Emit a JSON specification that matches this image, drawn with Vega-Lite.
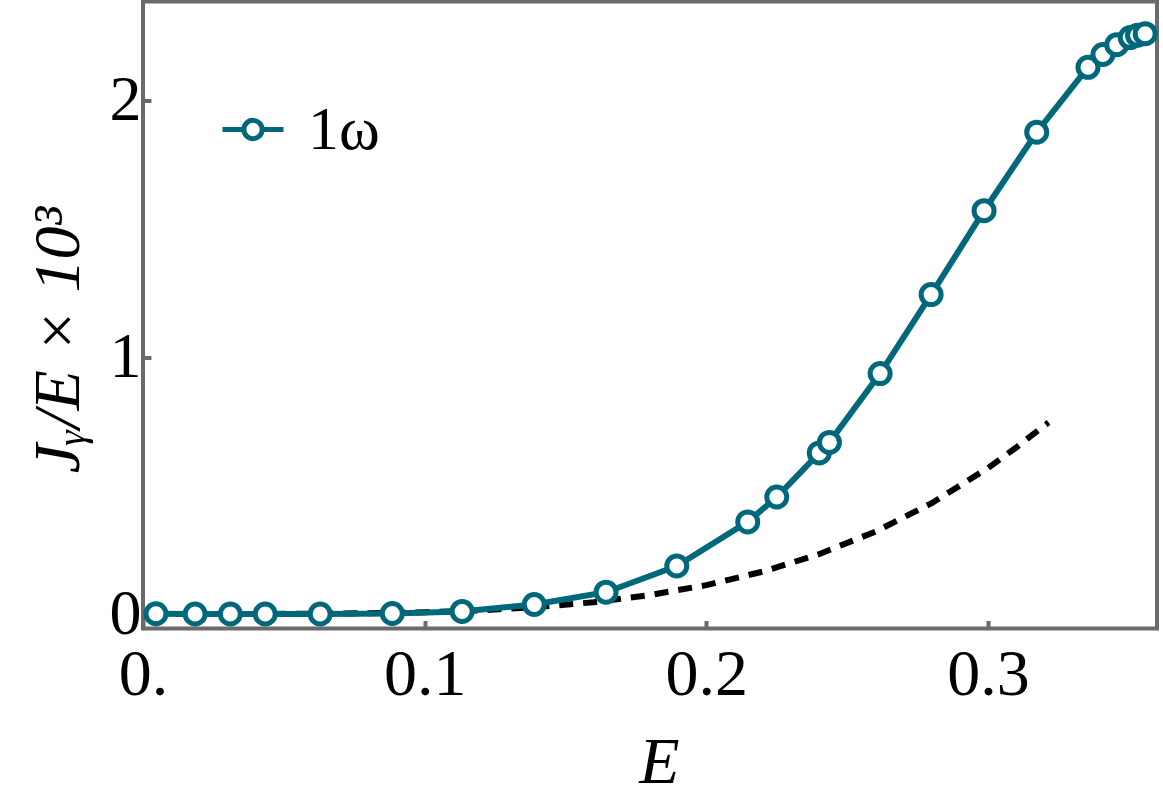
{
  "$schema": "https://vega.github.io/schema/vega-lite/v6.json",
  "width": 1014,
  "height": 627,
  "autosize": {"type": "none"},
  "padding": {"left": 143, "top": 1.5, "right": 6, "bottom": 180.5},
  "background": "white",
  "config": {
    "view": {"stroke": "#6b6b6b", "strokeWidth": 4},
    "axis": {
      "domain": false,
      "grid": false,
      "tickColor": "#6b6b6b",
      "tickWidth": 4,
      "tickSize": -8,
      "labelFont": "Liberation Serif",
      "labelFontSize": 66,
      "labelColor": "black",
      "titleFont": "Liberation Serif",
      "titleFontSize": 66,
      "titleColor": "black",
      "titleFontWeight": "normal"
    }
  },
  "datasets": {
    "main": [
      {"E": 0.0046, "J": 0.001, "s": "1ω"},
      {"E": 0.0185, "J": 0.0, "s": "1ω"},
      {"E": 0.031, "J": 0.0, "s": "1ω"},
      {"E": 0.0434, "J": 0.0, "s": "1ω"},
      {"E": 0.0629, "J": 0.0, "s": "1ω"},
      {"E": 0.0885, "J": 0.002, "s": "1ω"},
      {"E": 0.1133, "J": 0.01, "s": "1ω"},
      {"E": 0.1389, "J": 0.037, "s": "1ω"},
      {"E": 0.1644, "J": 0.085, "s": "1ω"},
      {"E": 0.1895, "J": 0.187, "s": "1ω"},
      {"E": 0.2147, "J": 0.359, "s": "1ω"},
      {"E": 0.2250, "J": 0.456, "s": "1ω"},
      {"E": 0.2401, "J": 0.628, "s": "1ω"},
      {"E": 0.2437, "J": 0.669, "s": "1ω"},
      {"E": 0.2617, "J": 0.937, "s": "1ω"},
      {"E": 0.2798, "J": 1.245, "s": "1ω"},
      {"E": 0.2986, "J": 1.572, "s": "1ω"},
      {"E": 0.3173, "J": 1.878, "s": "1ω"},
      {"E": 0.3355, "J": 2.131, "s": "1ω"},
      {"E": 0.3408, "J": 2.181, "s": "1ω"},
      {"E": 0.3457, "J": 2.219, "s": "1ω"},
      {"E": 0.3505, "J": 2.247, "s": "1ω"},
      {"E": 0.3531, "J": 2.256, "s": "1ω"},
      {"E": 0.3558, "J": 2.262, "s": "1ω"}
    ],
    "fit": [
      {"E": 0.003, "J": 0.0},
      {"E": 0.02, "J": 0.00001},
      {"E": 0.04, "J": 0.00018},
      {"E": 0.06, "J": 0.0009},
      {"E": 0.08, "J": 0.0029},
      {"E": 0.10, "J": 0.007},
      {"E": 0.12, "J": 0.0146},
      {"E": 0.14, "J": 0.027},
      {"E": 0.16, "J": 0.046},
      {"E": 0.18, "J": 0.074},
      {"E": 0.20, "J": 0.1125},
      {"E": 0.22, "J": 0.165},
      {"E": 0.24, "J": 0.233},
      {"E": 0.26, "J": 0.321},
      {"E": 0.28, "J": 0.432},
      {"E": 0.30, "J": 0.569},
      {"E": 0.31, "J": 0.649},
      {"E": 0.3215, "J": 0.747}
    ]
  },
  "layer": [
    {
      "data": {"name": "fit"},
      "mark": {"type": "line", "color": "black", "strokeWidth": 6, "strokeDash": [14, 10]},
      "encoding": {
        "x": {"field": "E", "type": "quantitative",
          "scale": {"domain": [0, 0.36], "nice": false, "zero": false},
          "axis": {
            "values": [0, 0.1, 0.2, 0.3],
            "labelExpr": "datum.value === 0 ? '0.' : format(datum.value, '.1f')",
            "labelPadding": 22,
            "labelFlush": false,
            "title": "E",
            "titleFontStyle": "italic",
            "titleX": 516,
            "titleY": 154,
            "titleAlign": "center",
            "titleBaseline": "alphabetic"
          }
        },
        "y": {"field": "J", "type": "quantitative",
          "scale": {"domain": [-0.0565, 2.3875], "nice": false, "zero": false},
          "axis": {
            "values": [0, 1, 2],
            "format": "d",
            "labelPadding": 10,
            "labelFontSize": 64,
            "labelFlush": false,
            "labelBaseline": "middle",
            "title": "Jᵧ/E × 10³",
            "titleFontStyle": "italic",
            "titleAngle": -90,
            "titleX": -65,
            "titleY": 338,
            "titleAlign": "center",
            "titleBaseline": "alphabetic"
          }
        }
      }
    },
    {
      "data": {"name": "main"},
      "mark": {"type": "line", "strokeWidth": 6},
      "encoding": {
        "x": {"field": "E", "type": "quantitative"},
        "y": {"field": "J", "type": "quantitative"},
        "color": {"field": "s", "type": "nominal",
          "scale": {"domain": ["1ω"], "range": ["#00687a"]},
          "legend": {
            "orient": "none",
            "legendX": 77,
            "legendY": 95,
            "title": null,
            "padding": 0,
            "symbolType": "M-1,0L-0.3,0M0.3,0L1,0M0.3,0A0.3,0.3 0 1,1 -0.3,0A0.3,0.3 0 1,1 0.3,0Z",
            "symbolSize": 3721,
            "symbolStrokeWidth": 5,
            "symbolStrokeColor": "#00687a",
            "symbolFillColor": "white",
            "symbolOpacity": 1,
            "labelFont": "Liberation Serif",
            "labelFontSize": 62,
            "labelColor": "black",
            "labelOffset": 22
          }
        }
      }
    },
    {
      "data": {"name": "main"},
      "mark": {"type": "point", "shape": "circle", "filled": false, "fill": "white", "size": 400, "strokeWidth": 5, "opacity": 1},
      "encoding": {
        "x": {"field": "E", "type": "quantitative"},
        "y": {"field": "J", "type": "quantitative"},
        "color": {"field": "s", "type": "nominal"}
      }
    }
  ]
}
